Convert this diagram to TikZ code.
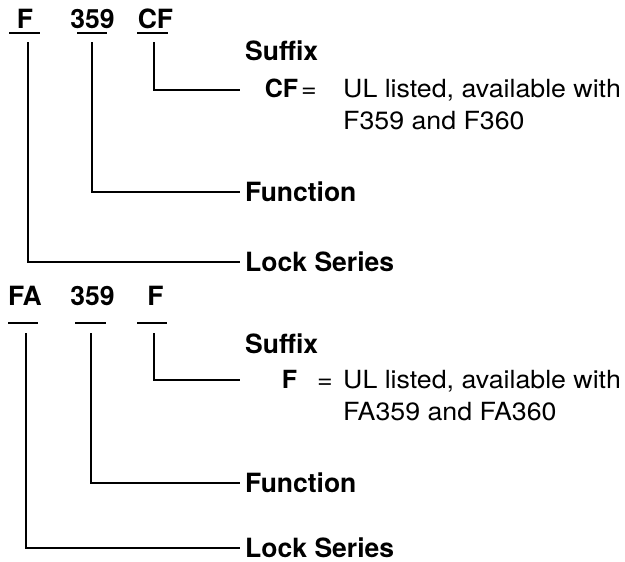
\documentclass[tikz,border=0pt]{standalone}
\usepackage{fontspec}
\setmainfont{TeX Gyre Heros}[UprightFeatures={FakeStretch=1.07}]
\usetikzlibrary{positioning}
\newcommand{\bigtext}{\fontsize{25}{32}\selectfont}
\newcommand{\boldtext}{\fontsize{26.5}{32}\selectfont\bfseries}
\tikzset{
  code/.style={font=\boldtext, anchor=base},
  lbl/.style={font=\boldtext, anchor=west, inner xsep=5pt, inner ysep=0pt},
  head/.style={font=\boldtext, anchor=base west, inner sep=0pt},
  eq/.style={font=\bigtext, anchor=base east, inner sep=0pt},
  desc/.style={font=\bigtext, anchor=base west, align=left, inner sep=0pt},
  conn/.style={line width=1.8pt}
}
\begin{document}
\begin{tikzpicture}[x=1pt, y=-1pt]
\useasboundingbox (0,0) rectangle (625,562);
\node[code] (tF) at (25,28) {F};
\node[code] (t359) at (92.5,28) {359};
\node[code] (tCF) at (155.5,28) {CF};
\draw[conn] (9,33) -- (40,33);
\draw[conn] (77,33) -- (107,33);
\draw[conn] (137,33) -- (168,33);
\coordinate (uF) at (28,42);
\coordinate (u359) at (92,42);
\coordinate (uCF) at (154,42);
\coordinate (eCF) at (240,90);
\node[head] (tSuffix) at (245,60) {Suffix};
\node[eq] (tCFeq) at (317,97) {\textbf{CF}\hspace{3pt}=};
\node[desc] (tCFdesc) at (343,129) {UL listed, available with\\F359 and F360};
\node[lbl] (tFunction) at (240,192) {Function};
\node[lbl] (tLock) at (240,262) {Lock Series};
\draw[conn] (uCF) |- (eCF);
\draw[conn] (u359) |- (tFunction.west);
\draw[conn] (uF) |- (tLock.west);
\node[code] (bFA) at (25,305) {FA};
\node[code] (b359) at (92.5,305) {359};
\node[code] (bF) at (155.5,305) {F};
\draw[conn] (8,323) -- (38,323);
\draw[conn] (75,323) -- (106,323);
\draw[conn] (137,323) -- (167,323);
\coordinate (vFA) at (26,333);
\coordinate (v359) at (91,333);
\coordinate (vF) at (154,333);
\coordinate (eF) at (240,380);
\node[head] (bSuffix) at (245,353) {Suffix};
\node[eq] (bFeq) at (333,388) {\textbf{F}\hspace{20pt}=};
\node[desc] (bFdesc) at (343,420) {UL listed, available with\\FA359 and FA360};
\node[lbl] (bFunction) at (240,483) {Function};
\node[lbl] (bLock) at (240,548) {Lock Series};
\draw[conn] (vF) |- (eF);
\draw[conn] (v359) |- (bFunction.west);
\draw[conn] (vFA) |- (bLock.west);
\end{tikzpicture}
\end{document}
